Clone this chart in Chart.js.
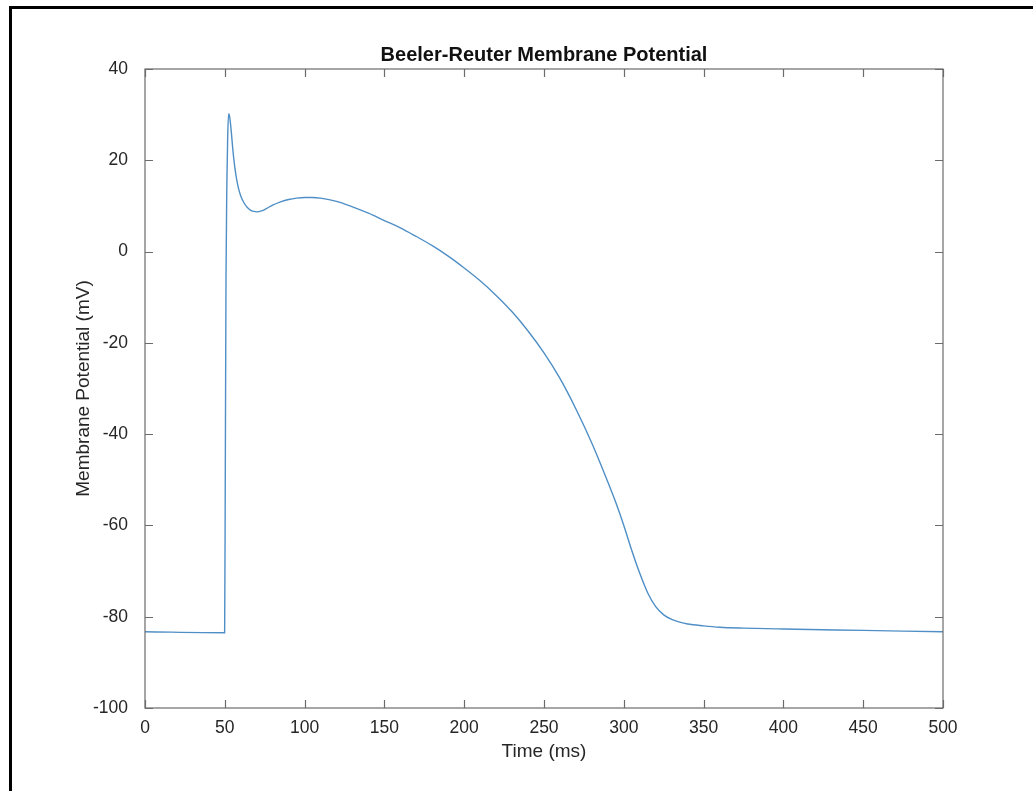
<!DOCTYPE html>
<html>
<head>
<meta charset="utf-8">
<title>Beeler-Reuter Membrane Potential</title>
<script src="https://cdn.jsdelivr.net/npm/chart.js@4.4.1/dist/chart.umd.min.js"></script>
<style>
  html, body { margin: 0; padding: 0; background: #fff; }
  #wrap { position: relative; width: 1033px; height: 791px; overflow: hidden; }
  #frame {
    position: absolute; left: 9px; top: 6px; width: 1100px; height: 900px;
    border-left: 3px solid #000; border-top: 3px solid #000; pointer-events: none;
  }
</style>
</head>
<body>
<div id="wrap">
  <canvas id="ap"></canvas>
  <div id="frame"></div>
</div>
<script>
// Beeler-Reuter action potential, time (ms) vs membrane potential (mV)
const timeMs = [0, 49.9, 50.3, 50.75, 51.3, 51.8, 52.4, 53, 54, 55, 56, 57, 58, 59, 60, 62, 64, 66, 68, 70,
  73, 76, 80, 85, 90, 95, 100, 105, 110, 120, 130, 140, 150, 160, 170, 180, 190, 200, 210, 220, 230, 240,
  250, 260, 270, 280, 290, 295, 300, 305, 310, 315, 320, 325, 330, 335, 340, 350, 360, 375, 400, 450, 500];
const potentialMv = [-83.3, -83.5, -50, -6, 15, 25, 30.2, 29.6, 26.5, 22.5, 19.2, 16.7, 14.8, 13.3, 12.2, 10.7, 9.7, 9.1, 8.8, 8.7,
  8.9, 9.4, 10.2, 10.9, 11.4, 11.7, 11.85, 11.85, 11.7, 11.0, 9.8, 8.4, 6.8, 5.2, 3.3, 1.3, -1.0, -3.6, -6.4, -9.6, -13.2, -17.4,
  -22.2, -27.8, -34.5, -42, -50.5, -55, -60, -65.5, -70.5, -74.8, -77.8, -79.6, -80.6, -81.2, -81.6, -82.0, -82.3, -82.5, -82.7, -83.0, -83.3];

const xTicks = [0, 50, 100, 150, 200, 250, 300, 350, 400, 450, 500];
const yTicks = [-100, -80, -60, -40, -20, 0, 20, 40];

const FONT = 'Helvetica, "Liberation Sans", Arial, sans-serif';
const AXIS = '#6b6b6b';
const INK = '#262626';

// box around the axes with inward ticks on all four sides, plus the title
const axesBox = {
  id: 'axesBox',
  afterDraw(chart) {
    const { ctx, chartArea: a, scales } = chart;
    const len = 8;
    ctx.save();
    ctx.strokeStyle = AXIS;
    ctx.lineWidth = 1.2;
    ctx.strokeRect(a.left, a.top, a.right - a.left, a.bottom - a.top);
    ctx.beginPath();
    xTicks.forEach(v => {
      const px = Math.round(scales.x.getPixelForValue(v)) + 0.5;
      ctx.moveTo(px, a.bottom); ctx.lineTo(px, a.bottom - len);
      ctx.moveTo(px, a.top); ctx.lineTo(px, a.top + len);
    });
    yTicks.forEach(v => {
      const py = Math.round(scales.y.getPixelForValue(v)) + 0.5;
      ctx.moveTo(a.left, py); ctx.lineTo(a.left + len, py);
      ctx.moveTo(a.right, py); ctx.lineTo(a.right - len, py);
    });
    ctx.stroke();

    ctx.fillStyle = '#111';
    ctx.font = 'bold 20px ' + FONT;
    ctx.textAlign = 'center';
    ctx.textBaseline = 'middle';
    ctx.fillText('Beeler-Reuter Membrane Potential', (a.left + a.right) / 2, 55);
    ctx.restore();
  }
};

new Chart(document.getElementById('ap'), {
  type: 'line',
  data: {
    datasets: [{
      data: timeMs.map((t, i) => ({ x: t, y: potentialMv[i] })),
      borderColor: '#4f8fc6',
      borderWidth: 1.4,
      pointRadius: 0,
      cubicInterpolationMode: 'monotone',
      fill: false,
    }],
  },
  options: {
    responsive: true,
    maintainAspectRatio: false,
    animation: false,
    layout: { padding: { left: 0, top: 69, right: 90, bottom: 0 } },
    plugins: { legend: { display: false }, tooltip: { enabled: false } },
    scales: {
      x: {
        type: 'linear',
        min: 0,
        max: 500,
        afterBuildTicks: s => { s.ticks = xTicks.map(v => ({ value: v })); },
        afterFit: s => { s.height = 83; },
        grid: { display: false },
        border: { display: false },
        ticks: { color: INK, font: { family: FONT, size: 17.5 }, padding: 2, maxRotation: 0 },
        title: {
          display: true, text: 'Time (ms)', color: INK,
          font: { family: FONT, size: 19 }, padding: { top: 0, bottom: 28 },
        },
      },
      y: {
        min: -100,
        max: 40,
        afterBuildTicks: s => { s.ticks = yTicks.map(v => ({ value: v })); },
        afterFit: s => { s.width = 145; },
        grid: { display: false },
        border: { display: false },
        ticks: { color: INK, font: { family: FONT, size: 17.5 }, padding: 9 },
        title: {
          display: true, text: 'Membrane Potential (mV)', color: INK,
          font: { family: FONT, size: 19 }, padding: { top: 72, bottom: 0 },
        },
      },
    },
  },
  plugins: [axesBox],
});
</script>
</body>
</html>
